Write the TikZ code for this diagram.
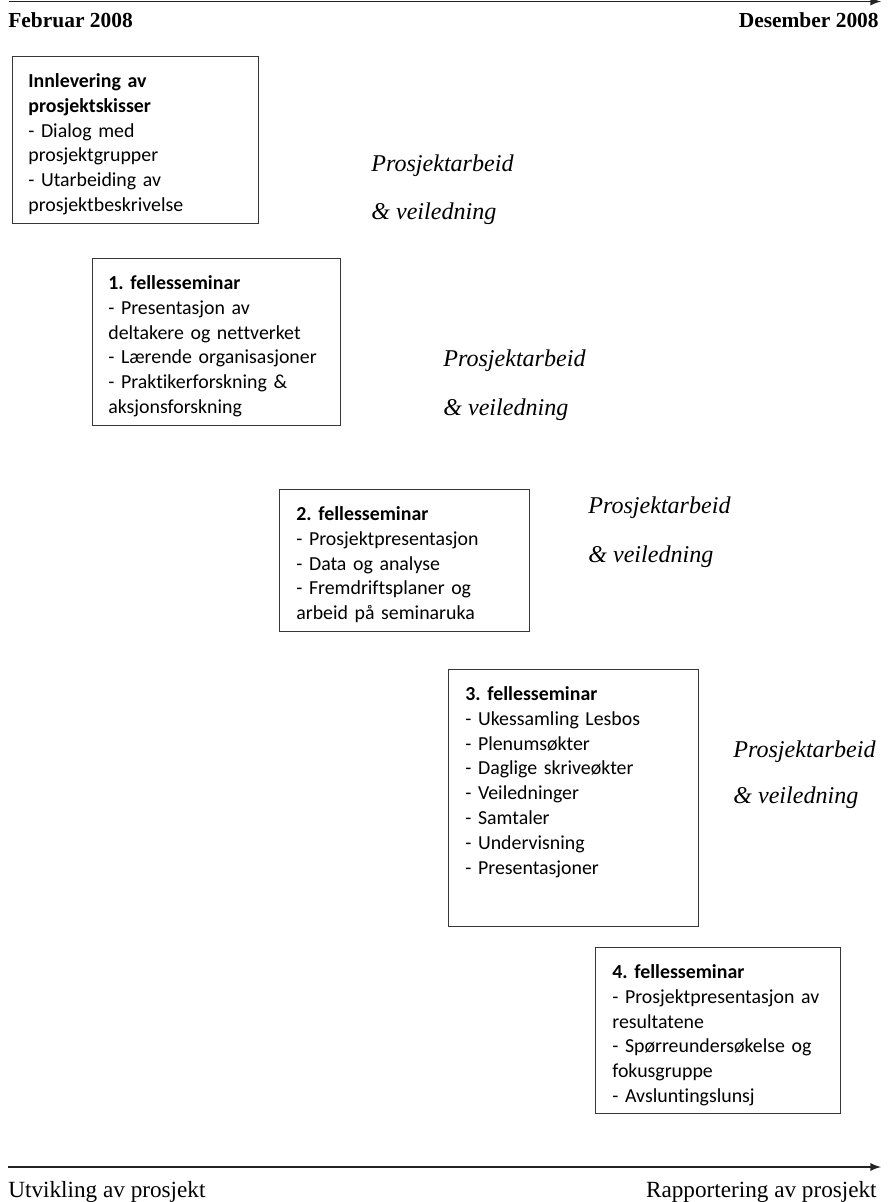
\documentclass[tikz,border=0pt]{standalone}
\usepackage{fontspec}
\setmainfont{Liberation Serif}
\newfontfamily\calibri[Ligatures=NoCommon]{Carlito}
\usetikzlibrary{arrows}
\definecolor{xframe}{RGB}{55,55,55}
\definecolor{xline}{RGB}{35,35,35}
\frenchspacing

\begin{document}
\begin{tikzpicture}[x=0.02cm, y=-0.02cm, every node/.style={inner sep=0}]
	\def \pu {0.02cm}
	\tikzset{
		frame/.style={draw=xframe, line width=0.75pt, anchor=north west},
		seminar/.style={anchor=north west, text width=250*\pu, align=left, font=\calibri\fontsize{11.3}{14.17}\selectfont},
		work/.style={anchor=base west, font=\itshape\fontsize{13.7}{16}\selectfont},
		date/.style={font=\bfseries\fontsize{12.2}{14}\selectfont},
		phase/.style={font=\fontsize{13.2}{15}\selectfont}
	}
	\useasboundingbox (0,0) rectangle (887,1202);
	% time axis on top
	\coordinate (tl) at (9,1.5);
	\coordinate (tr) at (881,1.5);
	\draw[->, >=latex, draw=xline, line width=1.1pt] (tl) -- (tr);
	\node[date, anchor=base west] (feb) at (8,28) {Februar 2008};
	\node[date, anchor=base east] (des) at (879,28) {Desember 2008};
	% seminars
	\node[frame, minimum width=246*\pu, minimum height=167*\pu] (s0) at (12,56) {};
	\node[seminar] (t0) at (28,73) {\textbf{Innlevering av}\\\textbf{prosjektskisser}\\- Dialog med\\prosjektgrupper\\- Utarbeiding av\\prosjektbeskrivelse};
	\node[frame, minimum width=248*\pu, minimum height=167*\pu] (s1) at (92,258) {};
	\node[seminar] (t1) at (108,275) {\textbf{1. fellesseminar}\\- Presentasjon av\\deltakere og nettverket\\- Lærende organisasjoner\\- Praktikerforskning \&\\aksjonsforskning};
	\node[frame, minimum width=250*\pu, minimum height=142*\pu] (s2) at (279,489) {};
	\node[seminar] (t2) at (296,506) {\textbf{2. fellesseminar}\\- Prosjektpresentasjon\\- Data og analyse\\- Fremdriftsplaner og\\arbeid på seminaruka};
	\node[frame, minimum width=250*\pu, minimum height=257*\pu] (s3) at (448,669) {};
	\node[seminar] (t3) at (465,686) {\textbf{3. fellesseminar}\\- Ukessamling Lesbos\\- Plenumsøkter\\- Daglige skriveøkter\\- Veiledninger\\- Samtaler\\- Undervisning\\- Presentasjoner};
	\node[frame, minimum width=245*\pu, minimum height=166*\pu] (s4) at (595,947) {};
	\node[seminar] (t4) at (612,964) {\textbf{4. fellesseminar}\\- Prosjektpresentasjon av\\resultatene\\- Spørreundersøkelse og\\fokusgruppe\\- Avsluntingslunsj};
	% project work between seminars
	\node[work] (pa1) at (371,172) {Prosjektarbeid};
	\node[work] (ve1) at (371,220) {\& veiledning};
	\node[work] (pa2) at (443,367) {Prosjektarbeid};
	\node[work] (ve2) at (443,415) {\& veiledning};
	\node[work] (pa3) at (588,513) {Prosjektarbeid};
	\node[work] (ve3) at (588,562) {\& veiledning};
	\node[work] (pa4) at (733,757) {Prosjektarbeid};
	\node[work] (ve4) at (733,803) {\& veiledning};
	% phase axis at the bottom
	\coordinate (bl) at (8,1167);
	\coordinate (br) at (881,1167);
	\draw[->, >=latex, draw=xline, line width=1.1pt] (bl) -- (br);
	\node[phase, anchor=base west] (utv) at (8,1197) {Utvikling av prosjekt};
	\node[phase, anchor=base east] (rap) at (877,1197) {Rapportering av prosjekt};
\end{tikzpicture}
\end{document}
